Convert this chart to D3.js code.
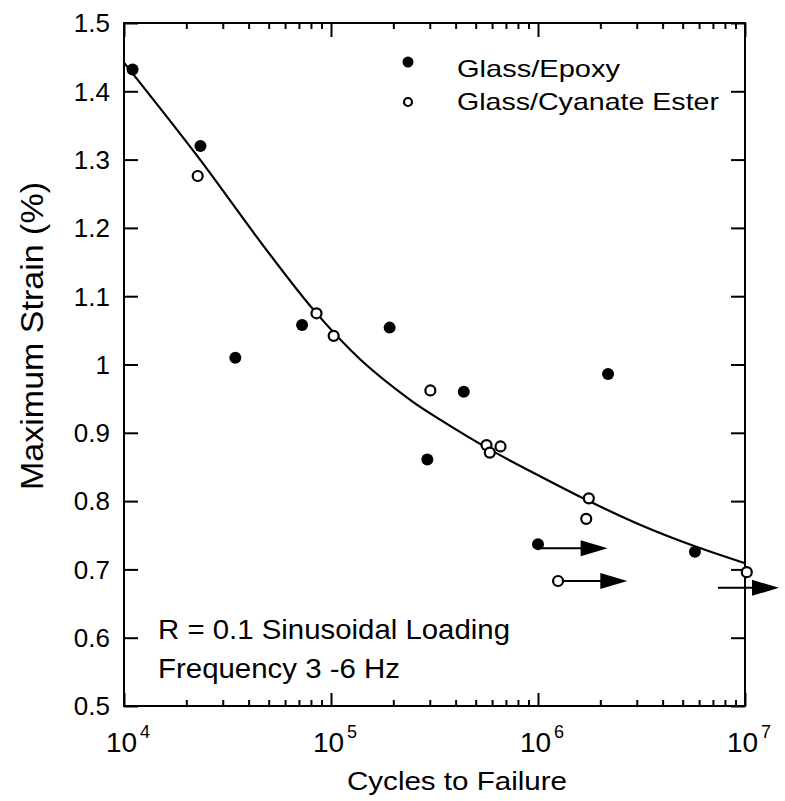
<!DOCTYPE html>
<html>
<head>
<meta charset="utf-8">
<script src="https://cdn.jsdelivr.net/npm/d3@7"></script>
<style>
  body { margin: 0; background: #fff; }
  text { font-family: "Liberation Sans", Arial, Helvetica, sans-serif; fill: #000; }
</style>
</head>
<body>
<div id="chart"></div>
<script>
// Data
var epoxyCycles = [1.10e4, 2.34e4, 3.45e4, 7.25e4, 1.92e5, 2.92e5, 4.38e5, 1.0e6, 2.18e6, 5.73e6];
var epoxyStrain = [1.432, 1.320, 1.010, 1.058, 1.054, 0.861, 0.960, 0.737, 0.986, 0.726];

var cyanateCycles = [2.27e4, 8.51e4, 1.03e5, 3.02e5, 5.64e5, 5.85e5, 6.59e5, 1.76e6, 1.71e6, 1.25e6, 1.02e7];
var cyanateStrain = [1.276, 1.075, 1.042, 0.962, 0.882, 0.871, 0.880, 0.804, 0.774, 0.683, 0.696];

// fitted curve as drawn in the figure
var fitCycles = [1.0e4, 2.33e4, 4.55e4, 8.24e4, 1.39e5, 2.42e5, 3.38e5, 5.90e5, 1.03e6, 1.79e6, 3.13e6, 5.47e6, 1.0e7];
var fitStrain = [1.442, 1.300, 1.180, 1.080, 1.007, 0.948, 0.919, 0.875, 0.836, 0.799, 0.765, 0.736, 0.709];

// run-outs (arrows): start cycles, tip cycles, strain
var arrowFrom = [1.0e6, 1.25e6, 7.4e6];
var arrowTo = [2.17e6, 2.7e6, 1.46e7];
var arrowStrain = [0.731, 0.683, 0.673];

var yTicks = [0.5, 0.6, 0.7, 0.8, 0.9, 1.0, 1.1, 1.2, 1.3, 1.4, 1.5];
var yTickLabels = ["0.5", "0.6", "0.7", "0.8", "0.9", "1", "1.1", "1.2", "1.3", "1.4", "1.5"];
var xDecades = [1e4, 1e5, 1e6, 1e7];
var xDecadeExp = ["4", "5", "6", "7"];

var legendNames = ["Glass/Epoxy", "Glass/Cyanate Ester"];
var noteLines = ["R = 0.1 Sinusoidal Loading", "Frequency 3 -6 Hz"];

var svg_width = 785;
var svg_height = 801;
var margin = { top: 23, right: 40, bottom: 95, left: 124 };
var width = svg_width - margin.left - margin.right;
var height = svg_height - margin.top - margin.bottom;

var svg = d3.select("#chart").append("svg")
  .attr("width", svg_width)
  .attr("height", svg_height);

svg.append("rect").attr("width", svg_width).attr("height", svg_height).attr("fill", "#fff");

var g = svg.append("g")
  .attr("transform", `translate(${margin.left}, ${margin.top})`);

var x = d3.scaleLog().domain([1e4, 1e7]).range([0, width]);
var y = d3.scaleLinear().domain([0.5, 1.5]).range([height, 0]);

// minor ticks 2..9 of each decade
var minorTicks = [];
xDecades.slice(0, 3).forEach(function(d) {
  for (var k = 2; k <= 9; k++) minorTicks.push(d * k);
});

function styleAxis(sel) {
  sel.select(".domain").remove();
  sel.selectAll("line").attr("stroke", "#000").attr("stroke-width", 2);
}

// x axes (ticks pointing inward)
g.append("g").attr("transform", `translate(0, ${height})`)
  .call(d3.axisBottom(x).tickValues(xDecades).tickSize(-13).tickFormat(""))
  .call(styleAxis);
g.append("g").attr("transform", `translate(0, ${height})`)
  .call(d3.axisBottom(x).tickValues(minorTicks).tickSize(-6).tickFormat(""))
  .call(styleAxis);
g.append("g")
  .call(d3.axisTop(x).tickValues(xDecades).tickSize(-14).tickFormat(""))
  .call(styleAxis);
g.append("g")
  .call(d3.axisTop(x).tickValues(minorTicks).tickSize(-6).tickFormat(""))
  .call(styleAxis);

// y axes
g.append("g")
  .call(d3.axisLeft(y).tickValues(yTicks).tickSize(-14).tickFormat(""))
  .call(styleAxis);
g.append("g").attr("transform", `translate(${width}, 0)`)
  .call(d3.axisRight(y).tickValues(yTicks).tickSize(-14).tickFormat(""))
  .call(styleAxis);

// frame
g.append("rect")
  .attr("width", width).attr("height", height)
  .attr("fill", "none").attr("stroke", "#000").attr("stroke-width", 2);

// y tick labels
g.selectAll(".ylab")
  .data(yTicks)
  .enter()
  .append("text")
  .attr("class", "ylab")
  .attr("x", -14)
  .attr("y", d => y(d))
  .attr("dy", "0.36em")
  .attr("text-anchor", "end")
  .attr("font-size", 26)
  .text((d, i) => yTickLabels[i]);

// x tick labels 10^n
var xl = g.selectAll(".xlab")
  .data(xDecades)
  .enter()
  .append("text")
  .attr("class", "xlab")
  .attr("x", d => x(d) + 4)
  .attr("y", height + 46)
  .attr("text-anchor", "middle")
  .attr("font-size", 28);
xl.append("tspan").text("10");
xl.append("tspan")
  .attr("dx", 3)
  .attr("dy", -14)
  .attr("font-size", 18)
  .text((d, i) => xDecadeExp[i]);

// axis titles
svg.append("text")
  .attr("x", 457)
  .attr("y", 790)
  .attr("text-anchor", "middle")
  .attr("font-size", 26)
  .attr("textLength", 220)
  .attr("lengthAdjust", "spacingAndGlyphs")
  .text("Cycles to Failure");

svg.append("text")
  .attr("transform", "translate(43, 336) rotate(-90)")
  .attr("text-anchor", "middle")
  .attr("font-size", 31)
  .attr("textLength", 308)
  .attr("lengthAdjust", "spacingAndGlyphs")
  .text("Maximum Strain (%)");

// fitted curve
var line = d3.line()
  .x(d => x(d[0]))
  .y(d => y(d[1]))
  .curve(d3.curveCatmullRom.alpha(0.5));

g.append("path")
  .datum(fitCycles.map((c, i) => [c, fitStrain[i]]))
  .attr("d", line)
  .attr("fill", "none")
  .attr("stroke", "#000")
  .attr("stroke-width", 2.2);

// run-out arrows
var headLen = 27, headHalf = 8;
arrowFrom.forEach(function(a, i) {
  var x0 = x(a), x1 = x(arrowTo[i]), yy = y(arrowStrain[i]);
  g.append("line")
    .attr("x1", x0).attr("x2", x1 - headLen + 2)
    .attr("y1", yy).attr("y2", yy)
    .attr("stroke", "#000").attr("stroke-width", 2);
  g.append("path")
    .attr("d", `M${x1},${yy} L${x1 - headLen},${yy - headHalf} L${x1 - headLen},${yy + headHalf} Z`)
    .attr("fill", "#000");
});

// points
g.selectAll(".epoxy")
  .data(epoxyCycles)
  .enter()
  .append("circle")
  .attr("class", "epoxy")
  .attr("cx", d => x(d))
  .attr("cy", (d, i) => y(epoxyStrain[i]))
  .attr("r", 6)
  .attr("fill", "#000");

g.selectAll(".cyanate")
  .data(cyanateCycles)
  .enter()
  .append("circle")
  .attr("class", "cyanate")
  .attr("cx", d => x(d))
  .attr("cy", (d, i) => y(cyanateStrain[i]))
  .attr("r", 5)
  .attr("fill", "#fff")
  .attr("stroke", "#000")
  .attr("stroke-width", 2.2);

// legend
var legend = svg.append("g");
legend.append("circle").attr("cx", 408).attr("cy", 62).attr("r", 5.5).attr("fill", "#000");
legend.append("circle").attr("cx", 408).attr("cy", 102).attr("r", 4)
  .attr("fill", "#fff").attr("stroke", "#000").attr("stroke-width", 2.2);
legend.selectAll(".legtext")
  .data(legendNames)
  .enter()
  .append("text")
  .attr("class", "legtext")
  .attr("x", 457)
  .attr("y", (d, i) => 77 + i * 33)
  .attr("font-size", 24)
  .attr("textLength", (d, i) => i === 0 ? 163 : 262)
  .attr("lengthAdjust", "spacingAndGlyphs")
  .text(d => d);

// loading note
svg.selectAll(".note")
  .data(noteLines)
  .enter()
  .append("text")
  .attr("class", "note")
  .attr("x", 158)
  .attr("y", (d, i) => 639 + i * 39)
  .attr("font-size", 28)
  .attr("textLength", (d, i) => i === 0 ? 352 : 242)
  .attr("lengthAdjust", "spacingAndGlyphs")
  .text(d => d);
</script>
</body>
</html>
